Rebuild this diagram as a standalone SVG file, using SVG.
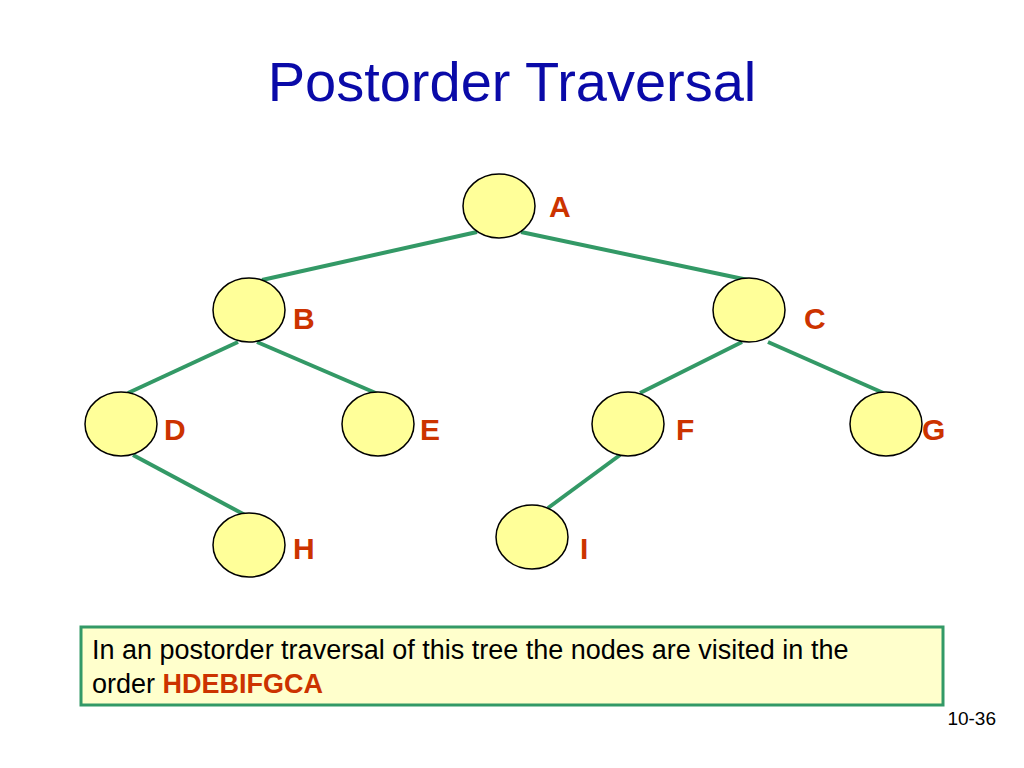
<svg xmlns="http://www.w3.org/2000/svg" width="1024" height="768" viewBox="0 0 1024 768">
<style>
.n{fill:#ffff99;stroke:#000;stroke-width:1.5}
.l{font-family:"Liberation Sans",Arial,sans-serif;font-weight:bold;font-size:30px;fill:#cc3300}
.e{stroke:#339966;stroke-width:4}
</style>
<rect width="1024" height="768" fill="#fff"/>
<text x="512" y="101" text-anchor="middle" font-family="Liberation Sans,Arial,sans-serif" font-size="56" fill="#0a0aa8">Postorder Traversal</text>
<g id="connectors" class="e">
<line x1="477" y1="232" x2="262" y2="280"/>
<line x1="521" y1="232" x2="748" y2="280"/>
<line x1="238" y1="342" x2="128" y2="393"/>
<line x1="257" y1="342" x2="378" y2="394"/>
<line x1="742" y1="342" x2="640" y2="393"/>
<line x1="768" y1="342" x2="888" y2="395"/>
<line x1="133" y1="455" x2="245" y2="515"/>
<line x1="620" y1="455" x2="548" y2="508"/>
</g>
<g id="A"><ellipse class="n" cx="499" cy="206" rx="36" ry="32"/><text class="l" x="549" y="217">A</text></g>
<g id="B"><ellipse class="n" cx="249" cy="310" rx="36" ry="32"/><text class="l" x="293" y="329">B</text></g>
<g id="C"><ellipse class="n" cx="749" cy="310" rx="36" ry="32"/><text class="l" x="804" y="329">C</text></g>
<g id="D"><ellipse class="n" cx="121" cy="424" rx="36" ry="32"/><text class="l" x="164" y="440">D</text></g>
<g id="E"><ellipse class="n" cx="378" cy="424" rx="36" ry="32"/><text class="l" x="420" y="440">E</text></g>
<g id="F"><ellipse class="n" cx="628" cy="424" rx="36" ry="32"/><text class="l" x="676" y="440">F</text></g>
<g id="G"><ellipse class="n" cx="886" cy="424" rx="36" ry="32"/><text class="l" x="922" y="440">G</text></g>
<g id="H"><ellipse class="n" cx="249" cy="545" rx="36" ry="32"/><text class="l" x="293" y="559">H</text></g>
<g id="I"><ellipse class="n" cx="532" cy="537" rx="36" ry="32"/><text class="l" x="580" y="559">I</text></g>
<g id="note">
<rect x="81" y="627" width="862" height="78" fill="#ffffcc" stroke="#339966" stroke-width="3"/>
<text font-family="Liberation Sans,Arial,sans-serif" font-size="27" fill="#000"><tspan x="92" y="659">In an postorder traversal of this tree the nodes are visited in the</tspan><tspan x="92" y="693">order <tspan font-weight="bold" fill="#cc3300">HDEBIFGCA</tspan></tspan></text>
</g>
<text x="996" y="725" text-anchor="end" font-family="Liberation Sans,Arial,sans-serif" font-size="19">10-36</text>
</svg>
